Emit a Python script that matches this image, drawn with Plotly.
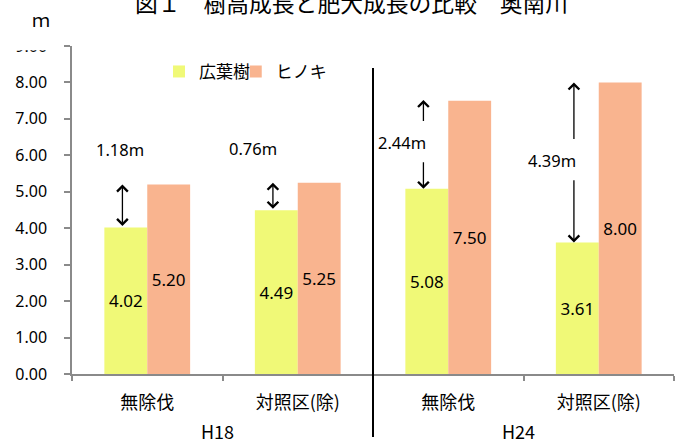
import plotly.graph_objects as go

# --- data -------------------------------------------------------------
years = ["H18", "H24"]
treatments = ["無除伐", "対照区(除)", "無除伐", "対照区(除)"]
broadleaf = [4.02, 4.49, 5.08, 3.61]        # 広葉樹
hinoki = [5.20, 5.25, 7.50, 8.00]           # ヒノキ
diff_values = [1.18, 0.76, 2.44, 4.39]      # height gap (m)
diff_labels = ["1.18m", "0.76m", "2.44m", "4.39m"]
y_ticks = [0, 1, 2, 3, 4, 5, 6, 7, 8, 9]

# --- styling ----------------------------------------------------------
YELLOW = "#F0F977"
SALMON = "#F9B48F"
AXIS = "#8a8a8a"
CJK = "Noto Sans CJK JP"
LATIN = "Noto Sans, Noto Sans CJK JP"

xs = list(range(len(treatments)))

fig = go.Figure()
fig.add_trace(go.Bar(
    x=xs, y=broadleaf, name="広葉樹", marker=dict(color=YELLOW, line=dict(width=0)),
    texttemplate="%{y:.2f}", textposition="inside", insidetextanchor="middle",
    textangle=0, textfont=dict(color="black", size=17, family=LATIN),
    legend="legend",
))
fig.add_trace(go.Bar(
    x=xs, y=hinoki, name="ヒノキ", marker=dict(color=SALMON, line=dict(width=0)),
    texttemplate="%{y:.2f}", textposition="inside", insidetextanchor="middle",
    textangle=0, textfont=dict(color="black", size=17, family=LATIN),
    legend="legend2",
))

annotations = []
shapes = []

# arrows showing the gap between 広葉樹 and ヒノキ
arrow_dx = -0.165
label_dx = [-0.18, -0.30, -0.305, -0.31]
head = dict(arrowhead=4, arrowsize=1.6, arrowwidth=1.3, arrowcolor="black")
for i, (low, d, lab) in enumerate(zip(broadleaf, diff_values, diff_labels)):
    top = low + d
    xa = i + arrow_dx
    if d < 2:
        annotations.append(dict(
            x=xa, y=top, ax=xa, ay=low, xref="x", yref="y", axref="x", ayref="y",
            text="", showarrow=True, arrowside="end+start",
            startarrowhead=4, startarrowsize=1.6, **head))
        annotations.append(dict(
            x=i + label_dx[i], y=top + 0.95, xref="x", yref="y", text=lab,
            showarrow=False, font=dict(size=16.5, family=LATIN, color="black")))
    else:
        mid = (low + top) / 2
        annotations.append(dict(
            x=xa, y=top, ax=xa, ay=mid + 0.6, xref="x", yref="y", axref="x", ayref="y",
            text="", showarrow=True, **head))
        annotations.append(dict(
            x=xa, y=low, ax=xa, ay=mid - 0.45, xref="x", yref="y", axref="x", ayref="y",
            text="", showarrow=True, **head))
        annotations.append(dict(
            x=i + label_dx[i], y=mid + 0.05, xref="x", yref="y", text=lab,
            showarrow=False, font=dict(size=16.5, family=LATIN, color="black")))

# year labels under each pair of categories
for k, yr in enumerate(years):
    annotations.append(dict(
        x=2 * k + 0.47, y=-0.174, xref="x", yref="paper", text=yr, showarrow=False,
        yanchor="middle", font=dict(size=18, family=CJK, color="black")))

# title and unit
annotations.append(dict(
    x=0.465, y=1.134, xref="paper", yref="paper", yanchor="middle",
    text="図１　樹高成長と肥大成長の比較　奥南川", showarrow=False,
    font=dict(size=22.8, family=CJK, color="black")))
annotations.append(dict(
    x=-0.069, y=1.081, xref="paper", yref="paper", yanchor="middle",
    text="ｍ", showarrow=False, font=dict(size=18, family=CJK, color="black")))

# divider between the two survey years
shapes.append(dict(
    type="line", xref="x", yref="paper", x0=1.5, x1=1.5, y0=-0.192, y1=0.933,
    line=dict(color="black", width=2), layer="above"))
# top of the value axis is trimmed off
shapes.append(dict(
    type="rect", xref="paper", yref="paper", x0=-0.2, x1=-0.0135, y0=0.987, y1=1.3,
    fillcolor="white", line=dict(width=0), layer="above"))

legend_common = dict(orientation="h", y=0.921, xanchor="left", yanchor="middle",
                     font=dict(size=17, family=CJK, color="black"),
                     bgcolor="rgba(0,0,0,0)", itemwidth=30)

fig.update_layout(
    width=682, height=446,
    margin=dict(l=72, r=8, t=46, b=72),
    paper_bgcolor="white", plot_bgcolor="white",
    barmode="group", bargap=0.43, bargroupgap=0,
    font=dict(family=LATIN, color="black"),
    showlegend=True,
    legend=dict(x=0.1445, **legend_common),
    legend2=dict(x=0.272, **legend_common),
    annotations=annotations, shapes=shapes,
)
fig.update_xaxes(
    range=[-0.5, 3.5], tickmode="array", tickvals=xs, ticktext=treatments,
    ticks="", showgrid=False, zeroline=False,
    showline=True, linecolor=AXIS, linewidth=1.5,
    tickfont=dict(size=18, family=CJK, color="black"), ticklabelstandoff=12,
    minor=dict(tickmode="array", tickvals=[x - 0.5 for x in xs] + [xs[-1] + 0.5],
               ticks="outside", ticklen=5, tickcolor=AXIS, tickwidth=1.5, showgrid=False),
)
fig.update_yaxes(
    range=[0, 9], tickmode="array", tickvals=y_ticks,
    ticktext=[f"{v:.2f}" for v in y_ticks],
    ticks="outside", ticklen=6, tickcolor=AXIS, tickwidth=1.5,
    showgrid=False, zeroline=False, showline=True, linecolor=AXIS, linewidth=1.5,
    tickfont=dict(size=16, family=LATIN, color="black"),
    ticklabelposition="outside", ticklabelstandoff=14,
)

fig.write_html("out.html")
